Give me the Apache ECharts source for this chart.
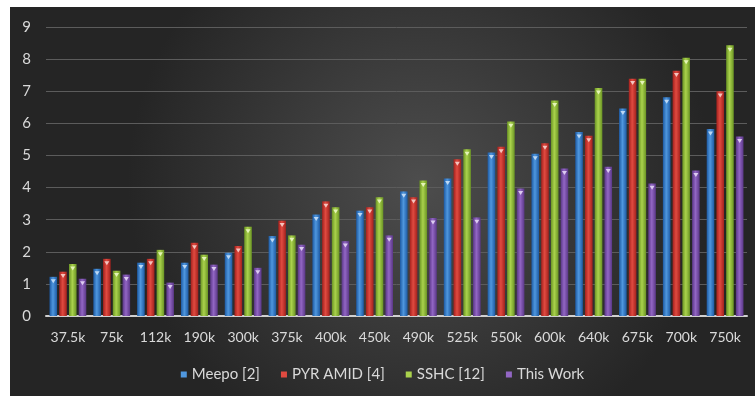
<!DOCTYPE html>
<html>
<head>
<meta charset="utf-8">
<script src="https://cdn.jsdelivr.net/npm/echarts@6/dist/echarts.min.js"></script>
<style>
  html, body { margin: 0; padding: 0; background: #ffffff; }
  #chart { position: absolute; left: 10px; top: 7px; width: 745px; height: 389px; }
</style>
</head>
<body>
<div id="chart"></div>
<script>
// Throughput per dataset size, four designs compared
const categories = ['37.5k', '75k', '112k', '190k', '300k', '375k', '400k', '450k',
                    '490k', '525k', '550k', '600k', '640k', '675k', '700k', '750k'];
const seriesNames = ['Meepo [2]', 'PYR AMID [4]', 'SSHC [12]', 'This Work'];
const meepo   = [1.22, 1.47, 1.66, 1.66, 1.97, 2.49, 3.16, 3.28, 3.88, 4.28, 5.09, 5.05, 5.73, 6.46, 6.81, 5.82];
const pyramid = [1.38, 1.78, 1.78, 2.28, 2.18, 2.97, 3.57, 3.39, 3.70, 4.88, 5.27, 5.38, 5.61, 7.39, 7.64, 7.00];
const sshc    = [1.62, 1.41, 2.06, 1.91, 2.78, 2.51, 3.39, 3.70, 4.22, 5.19, 6.06, 6.71, 7.10, 7.39, 8.04, 8.43];
const thisWork= [1.16, 1.29, 1.04, 1.60, 1.50, 2.22, 2.33, 2.51, 3.05, 3.07, 3.97, 4.59, 4.65, 4.13, 4.53, 5.59];
const yTicks  = [0, 1, 2, 3, 4, 5, 6, 7, 8, 9];

const seriesData = [meepo, pyramid, sshc, thisWork];
// edge / centre tones for the cylinder-like shading of each bar
const palette = [
  { edge: '#1d5aa3', mid: '#4f97de', cap: '#bcd8f4' },
  { edge: '#a3211d', mid: '#e04a40', cap: '#f4c4bf' },
  { edge: '#6a9424', mid: '#aad24c', cap: '#e4f4b8' },
  { edge: '#5a3787', mid: '#9266c4', cap: '#dccbf0' }
];

function shade(p) {
  return new echarts.graphic.LinearGradient(0, 0, 1, 0, [
    { offset: 0, color: p.edge },
    { offset: 0.45, color: p.mid },
    { offset: 1, color: p.edge }
  ]);
}

const BAR_GAP = '28%';
const CAT_GAP = '16%';

const series = [];
seriesData.forEach((vals, i) => {
  series.push({
    name: seriesNames[i],
    type: 'bar',
    data: vals,
    barGap: BAR_GAP,
    barCategoryGap: CAT_GAP,
    itemStyle: { color: shade(palette[i]) },
    emphasis: { disabled: true }
  });
});
// small light caps at the top of each bar
seriesData.forEach((vals, i) => {
  series.push({
    name: seriesNames[i],
    type: 'pictorialBar',
    data: vals,
    barGap: BAR_GAP,
    barCategoryGap: CAT_GAP,
    symbol: 'triangle',
    symbolRotate: 180,
    symbolSize: [5, 4],
    symbolPosition: 'end',
    symbolOffset: [0, '60%'],
    itemStyle: { color: palette[i].cap },
    z: 3,
    silent: true
  });
});

const chart = echarts.init(document.getElementById('chart'));
chart.setOption({
  animation: false,
  backgroundColor: new echarts.graphic.RadialGradient(0.55, 0.45, 0.75, [
    { offset: 0, color: '#4d4d4d' },
    { offset: 1, color: '#252525' }
  ]),
  textStyle: { fontFamily: 'Lato, "Open Sans", sans-serif' },
  grid: { left: 36, right: 8, top: 20, bottom: 80, containLabel: false },
  legend: {
    data: seriesNames.map((n, i) => ({ name: n, itemStyle: { color: palette[i].mid } })),
    bottom: 9,
    left: 'center',
    icon: 'rect',
    itemWidth: 6,
    itemHeight: 6,
    itemGap: 21,
    textStyle: { color: '#d9d9d9', fontSize: 15, fontFamily: 'Lato, "Open Sans", sans-serif' }
  },
  xAxis: {
    type: 'category',
    data: categories,
    axisLine: { lineStyle: { color: '#d0d0d0', width: 2 } },
    axisTick: { show: false },
    axisLabel: { color: '#d9d9d9', fontSize: 14, margin: 14, interval: 0 }
  },
  yAxis: {
    type: 'value',
    min: yTicks[0],
    max: yTicks[yTicks.length - 1],
    interval: 1,
    axisLine: { show: false },
    axisTick: { show: false },
    axisLabel: { color: '#d9d9d9', fontSize: 15, margin: 15 },
    splitLine: { lineStyle: { color: '#5c5c5c', width: 1 } }
  },
  series: series
});
</script>
</body>
</html>
